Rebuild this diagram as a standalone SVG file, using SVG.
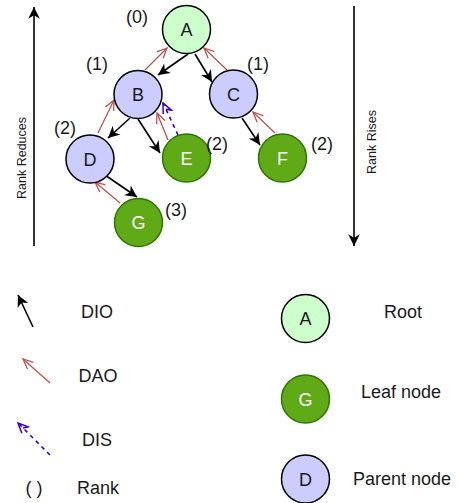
<svg xmlns="http://www.w3.org/2000/svg" width="459" height="503" viewBox="0 0 459 503">
  <style>
    .txt { font-family: "Liberation Sans", Arial, sans-serif; fill: #1a1a1a; }
    .lbl { font-size: 18px; text-anchor: middle; dominant-baseline: central; }
    .rank { font-size: 18px; text-anchor: middle; dominant-baseline: central; }
    .axis { font-size: 12.5px; text-anchor: middle; dominant-baseline: central; }
    .leg { font-size: 18px; text-anchor: middle; dominant-baseline: central; }
    .root { fill: #ccffcc; stroke: #000; stroke-width: 1.5; }
    .parent { fill: #ccccff; stroke: #000; stroke-width: 1.5; }
    .leaf { fill: #60a917; stroke: #2d7600; stroke-width: 1.5; }
    .white { fill: #ffffff; }
    .dio { stroke: #000; stroke-width: 1.6; fill: none; marker-end: url(#headDio); }
    .dao { stroke: #b85450; stroke-width: 1.3; fill: none; marker-end: url(#headDao); }
    .dis { stroke: #3700cc; stroke-width: 1.6; stroke-dasharray: 4 4; fill: none; marker-end: url(#headDis); }
    .axisline { stroke: #000; stroke-width: 1.6; fill: none; marker-end: url(#headAxis); }
  </style>
  <defs>
    <marker id="headDio" viewBox="0 0 12 12" refX="11" refY="6" markerWidth="14" markerHeight="14" markerUnits="userSpaceOnUse" orient="auto">
      <path d="M1,1 L11,6 L1,11 L4,6 Z" fill="#000"/>
    </marker>
    <marker id="headAxis" viewBox="0 0 12 12" refX="11" refY="6" markerWidth="14" markerHeight="14" markerUnits="userSpaceOnUse" orient="auto">
      <path d="M1,1 L11,6 L1,11 L4,6 Z" fill="#000"/>
    </marker>
    <marker id="headDao" viewBox="0 0 12 12" refX="11" refY="6" markerWidth="12" markerHeight="12" markerUnits="userSpaceOnUse" orient="auto">
      <path d="M1,1.5 L11,6 L1,10.5" fill="none" stroke="#b85450" stroke-width="1.3"/>
    </marker>
    <marker id="headDis" viewBox="0 0 12 12" refX="11" refY="6" markerWidth="12" markerHeight="12" markerUnits="userSpaceOnUse" orient="auto">
      <path d="M1,1.5 L11,6 L1,10.5 L4,6" fill="none" stroke="#3700cc" stroke-width="1.5"/>
    </marker>
  </defs>

  <!-- rank axes -->
  <g id="axes">
    <line class="axisline" x1="34" y1="246" x2="34" y2="7"/>
    <text class="txt axis" transform="translate(22,158) rotate(-90)">Rank Reduces</text>
    <line class="axisline" x1="354" y1="6" x2="354" y2="246"/>
    <text class="txt axis" transform="translate(372,142) rotate(-90)">Rank Rises</text>
  </g>

  <!-- connectors -->
  <g id="connectors">
    <line class="dio" x1="188" y1="54" x2="158" y2="75"/>
    <line class="dio" x1="195" y1="54" x2="212" y2="82"/>
    <line class="dio" x1="130" y1="118" x2="108" y2="138"/>
    <line class="dio" x1="138" y1="119" x2="160" y2="153"/>
    <line class="dio" x1="242" y1="118" x2="260" y2="145"/>
    <line class="dio" x1="105" y1="175" x2="137" y2="197"/>

    <line class="dao" x1="145" y1="70" x2="167" y2="48"/>
    <line class="dao" x1="227" y1="70" x2="204" y2="48"/>
    <line class="dao" x1="98" y1="133" x2="114" y2="100"/>
    <line class="dao" x1="168" y1="140" x2="157" y2="113"/>
    <line class="dao" x1="275" y1="133" x2="253" y2="112"/>
    <line class="dao" x1="120" y1="203" x2="95" y2="182"/>

    <line class="dis" x1="178" y1="135" x2="163" y2="103"/>
  </g>

  <!-- tree nodes -->
  <g id="node-A">
    <circle class="root" cx="186.5" cy="29.5" r="24"/>
    <text class="txt lbl" x="186.5" y="30">A</text>
  </g>
  <g id="node-B">
    <circle class="parent" cx="138" cy="94.5" r="24"/>
    <text class="txt lbl" x="138" y="95">B</text>
  </g>
  <g id="node-C">
    <circle class="parent" cx="233.5" cy="94" r="24"/>
    <text class="txt lbl" x="233.5" y="94.5">C</text>
  </g>
  <g id="node-D">
    <circle class="parent" cx="90" cy="159" r="24"/>
    <text class="txt lbl" x="90" y="159.5">D</text>
  </g>
  <g id="node-E">
    <circle class="leaf" cx="186.5" cy="158" r="24"/>
    <text class="txt lbl white" x="186.5" y="158.5">E</text>
  </g>
  <g id="node-F">
    <circle class="leaf" cx="282.5" cy="158" r="24"/>
    <text class="txt lbl white" x="282.5" y="158.5">F</text>
  </g>
  <g id="node-G">
    <circle class="leaf" cx="138.5" cy="222.5" r="24"/>
    <text class="txt lbl white" x="138.5" y="223">G</text>
  </g>

  <!-- rank labels -->
  <g id="ranks">
    <text class="txt rank" x="137" y="17">(0)</text>
    <text class="txt rank" x="97" y="64">(1)</text>
    <text class="txt rank" x="258" y="64">(1)</text>
    <text class="txt rank" x="65" y="128">(2)</text>
    <text class="txt rank" x="217" y="144">(2)</text>
    <text class="txt rank" x="322" y="144">(2)</text>
    <text class="txt rank" x="176" y="210">(3)</text>
  </g>

  <!-- legend: edge types -->
  <g id="legend-edges">
    <line class="dio" x1="33" y1="327" x2="18" y2="295"/>
    <text class="txt leg" x="97" y="312">DIO</text>
    <line class="dao" x1="50" y1="383" x2="23" y2="359"/>
    <text class="txt leg" x="98" y="376">DAO</text>
    <line class="dis" x1="50" y1="455" x2="18" y2="423"/>
    <text class="txt leg" x="97" y="440">DIS</text>
    <text class="txt leg" x="34" y="488">( )</text>
    <text class="txt leg" x="98" y="488">Rank</text>
  </g>

  <!-- legend: node types -->
  <g id="legend-root">
    <circle class="root" cx="305.5" cy="318.5" r="24"/>
    <text class="txt lbl" x="305.5" y="319">A</text>
    <text class="txt leg" x="403" y="312">Root</text>
  </g>
  <g id="legend-leaf">
    <circle class="leaf" cx="305.5" cy="399" r="24"/>
    <text class="txt lbl white" x="305.5" y="399.5">G</text>
    <text class="txt leg" x="401" y="392">Leaf node</text>
  </g>
  <g id="legend-parent">
    <circle class="parent" cx="305.5" cy="479" r="24"/>
    <text class="txt lbl" x="305.5" y="479.5">D</text>
    <text class="txt leg" x="402" y="479">Parent node</text>
  </g>
</svg>
